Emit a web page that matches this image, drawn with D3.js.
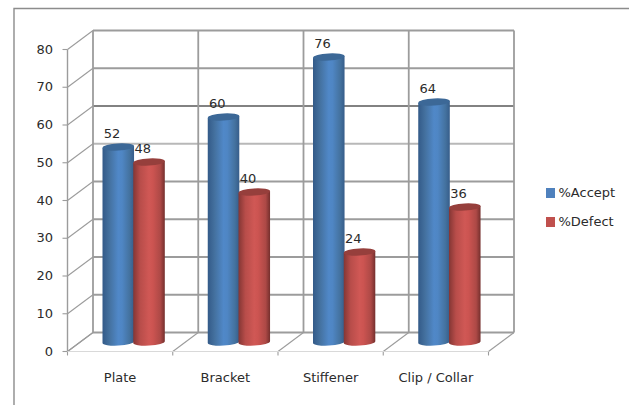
<!DOCTYPE html>
<html>
<head>
<meta charset="utf-8">
<script src="https://cdn.jsdelivr.net/npm/d3@7/dist/d3.min.js"></script>
<style>
  html, body { margin: 0; padding: 0; background: #fff; }
  svg { display: block; }
  text { font-family: "DejaVu Sans", sans-serif; font-size: 13px; fill: #2b2b2b; }
</style>
</head>
<body>
<svg id="chart" width="629" height="405"></svg>
<script>
const categories = ["Plate", "Bracket", "Stiffener", "Clip / Collar"];
const seriesNames = ["%Accept", "%Defect"];
const accept = [52, 60, 76, 64];
const defect = [48, 40, 24, 36];
const yTicks = [0, 10, 20, 30, 40, 50, 60, 70, 80];

const svg = d3.select("#chart");
const defs = svg.append("defs");

// Pseudo-3D geometry: front plane of the floor and its offset to the back wall
const depthX = 25.5, depthY = -19.5;
const yFront = d3.scaleLinear().domain([0, 80]).range([351.5, 49.5]);
const yBack = d3.scaleLinear().domain([0, 80]).range([332.5, 30.5]);
const yBar = d3.scaleLinear().domain([0, 80]).range([342, 42]);
const xCat = d3.scaleBand().domain(categories).range([67.5, 488.5]);
const xSeries = d3.scaleBand().domain(seriesNames).range([35, 96.5]);

const ramps = {
  "%Accept": ["#335a88", "#44719f", "#5088c8", "#4f86c4", "#44729f", "#365d8a"],
  "%Defect": ["#843634", "#b84d4a", "#d05855", "#cc5451", "#ad4946", "#752f2d"]
};
const topFill = { "%Accept": "#3c6897", "%Defect": "#963f3c" };
const swatch = { "%Accept": "#4f81bd", "%Defect": "#c0504d" };

seriesNames.forEach((name, i) => {
  const g = defs.append("linearGradient").attr("id", "cyl" + i);
  [0, 0.22, 0.5, 0.62, 0.86, 1].forEach((o, k) =>
    g.append("stop").attr("offset", o).attr("stop-color", ramps[name][k]));
});

// Outer chart frame, open at the right and bottom edges
svg.append("path")
  .attr("d", "M14,405V8.5H629")
  .attr("fill", "none").attr("stroke", "#8c8c8c").attr("stroke-width", 1.4);

const walls = svg.append("g").attr("fill", "none").attr("stroke", "#9c9c9c");

// Gridlines on the back wall and along the left side wall
yTicks.forEach(t => {
  const shade = t === 60 ? "#828282" : (t === 50 ? "#b8b8b8" : "#9c9c9c");
  walls.append("line")
    .attr("x1", xCat.range()[0] + depthX).attr("x2", xCat.range()[1] + depthX)
    .attr("y1", yBack(t)).attr("y2", yBack(t))
    .attr("stroke", shade).attr("stroke-width", 1.8);
  walls.append("line")
    .attr("x1", xCat.range()[0]).attr("x2", xCat.range()[0] + depthX)
    .attr("y1", yFront(t)).attr("y2", yBack(t))
    .attr("stroke-width", 1.1);
  walls.append("line")
    .attr("x1", xCat.range()[0] - 5).attr("x2", xCat.range()[0])
    .attr("y1", yFront(t)).attr("y2", yFront(t))
    .attr("stroke-width", 1.1);
});

// Category boundaries: floor diagonals, wall verticals and front ticks
const boundaries = categories.map(c => xCat(c)).concat(xCat.range()[1]);
boundaries.forEach(x => {
  walls.append("line")
    .attr("x1", x + depthX).attr("x2", x + depthX)
    .attr("y1", yBack(80)).attr("y2", yBack(0)).attr("stroke-width", 1.8);
  walls.append("line")
    .attr("x1", x).attr("x2", x + depthX)
    .attr("y1", yFront(0)).attr("y2", yBack(0)).attr("stroke-width", 1.1);
  walls.append("line")
    .attr("x1", x).attr("x2", x)
    .attr("y1", yFront(0)).attr("y2", yFront(0) + 4).attr("stroke-width", 1.1);
});

// Front vertical axis and the pale front edge of the floor
walls.append("line")
  .attr("x1", xCat.range()[0]).attr("x2", xCat.range()[0])
  .attr("y1", yFront(80)).attr("y2", yFront(0)).attr("stroke-width", 1.4);
walls.append("line")
  .attr("x1", xCat.range()[0]).attr("x2", xCat.range()[1])
  .attr("y1", yFront(0)).attr("y2", yFront(0)).attr("stroke", "#d9d9d9");

// Value axis labels
svg.append("g").selectAll("text").data(yTicks).join("text")
  .attr("x", 53).attr("y", d => yFront(d) + 0.5)
  .attr("text-anchor", "end").attr("dominant-baseline", "middle")
  .text(d => d);

// Cylinders: a body with a tilted elliptical base and a tilted elliptical cap
const tilt = -3.2, ry = 3.6;
const rows = categories.flatMap((c, i) => [
  { c, s: seriesNames[0], si: 0, v: accept[i] },
  { c, s: seriesNames[1], si: 1, v: defect[i] }
]);

const bars = svg.append("g").selectAll("g").data(rows).join("g")
  .attr("transform", d => `translate(${xCat(d.c) + xSeries(d.s)},0)`);

// Slightly wider than the band so neighbouring cylinders touch
const w = xSeries.bandwidth() + 0.8;
const skew = w * Math.tan(tilt * Math.PI / 180) / 2;

bars.append("path")
  .attr("fill", d => `url(#cyl${d.si})`)
  .attr("d", d => {
    const top = yBar(d.v), base = yBar(0);
    return `M0,${top - skew}L${w},${top + skew}L${w},${base + skew}` +
      `A${w / 2},${ry} ${tilt} 0 1 0,${base - skew}Z`;
  });

bars.append("ellipse")
  .attr("fill", d => topFill[d.s])
  .attr("cx", w / 2).attr("cy", d => yBar(d.v))
  .attr("rx", w / 2).attr("ry", ry)
  .attr("transform", d => `rotate(${tilt} ${w / 2} ${yBar(d.v)})`);

// Value labels above each cylinder
bars.append("text")
  .attr("x", 9.5).attr("y", d => yBar(d.v) - 13)
  .attr("text-anchor", "middle").attr("dominant-baseline", "middle")
  .text(d => d.v);

// Category labels
svg.append("g").selectAll("text").data(categories).join("text")
  .attr("x", c => xCat(c) + xCat.bandwidth() / 2)
  .attr("y", 378)
  .attr("text-anchor", "middle").attr("dominant-baseline", "middle")
  .text(c => c);

// Legend
const legendY = d3.scalePoint().domain(seriesNames).range([193, 222]);
const legend = svg.append("g").selectAll("g").data(seriesNames).join("g")
  .attr("transform", d => `translate(546,${legendY(d)})`);
legend.append("rect")
  .attr("x", 0).attr("y", -5).attr("width", 9).attr("height", 10)
  .attr("fill", d => swatch[d]);
legend.append("text")
  .attr("x", 12.5).attr("y", 0.5).attr("dominant-baseline", "middle")
  .text(d => d);
</script>
</body>
</html>
